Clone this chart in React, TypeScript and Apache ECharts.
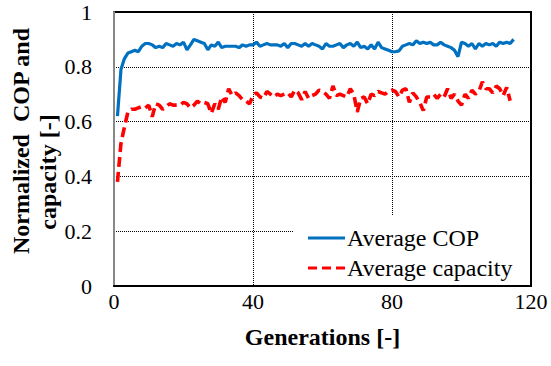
import React, { useEffect, useRef } from "react";
import * as echarts from "echarts";

const generationsCop = Array.from({ length: 115 }, (_, i) => i + 1);
const averageCop = [
  0.62, 0.79, 0.83, 0.85, 0.855, 0.86, 0.855, 0.875, 0.885, 0.885,
  0.88, 0.87, 0.875, 0.87, 0.885, 0.88, 0.875, 0.885, 0.88, 0.89,
  0.862, 0.88, 0.9, 0.895, 0.89, 0.885, 0.862, 0.88, 0.875, 0.89,
  0.87, 0.875, 0.875, 0.875, 0.875, 0.87, 0.88, 0.875, 0.88, 0.88,
  0.89, 0.875, 0.88, 0.885, 0.88, 0.88, 0.88, 0.875, 0.885, 0.87,
  0.885, 0.885, 0.88, 0.875, 0.885, 0.875, 0.885, 0.88, 0.875, 0.865,
  0.885, 0.875, 0.875, 0.88, 0.885, 0.87, 0.88, 0.885, 0.875, 0.89,
  0.87, 0.875, 0.865, 0.88, 0.865, 0.89, 0.87, 0.865, 0.86, 0.855,
  0.855, 0.858, 0.875, 0.88, 0.885, 0.88, 0.895, 0.885, 0.89, 0.885,
  0.89, 0.88, 0.88, 0.89, 0.88, 0.875, 0.87, 0.86, 0.837, 0.89,
  0.885, 0.875, 0.885, 0.865, 0.885, 0.875, 0.885, 0.88, 0.885, 0.875,
  0.89, 0.885, 0.89, 0.885, 0.9,
];
const averageCapacity = [
  0.38, 0.52, 0.58, 0.635, 0.645, 0.645, 0.65, 0.655, 0.65, 0.66,
  0.618, 0.665, 0.66, 0.645, 0.655, 0.665, 0.66, 0.66, 0.66, 0.67,
  0.665, 0.65, 0.66, 0.675, 0.665, 0.67, 0.665, 0.63, 0.665, 0.645,
  0.69, 0.67, 0.72, 0.695, 0.705, 0.695, 0.68, 0.675, 0.665, 0.695,
  0.705, 0.69, 0.685, 0.71, 0.7, 0.69, 0.7, 0.695, 0.7, 0.705,
  0.69, 0.715, 0.705, 0.68, 0.71, 0.685, 0.695, 0.7, 0.715, 0.71,
  0.7, 0.685, 0.73, 0.695, 0.7, 0.695, 0.69, 0.72, 0.7, 0.635,
  0.685, 0.69, 0.665, 0.7, 0.695, 0.71, 0.705, 0.7, 0.71, 0.715,
  0.71, 0.69, 0.715, 0.72, 0.67, 0.705, 0.69, 0.67, 0.64, 0.69,
  0.69, 0.7, 0.685, 0.7, 0.69, 0.72, 0.685, 0.7, 0.675, 0.66,
  0.7, 0.685, 0.715, 0.7, 0.71, 0.745, 0.72, 0.72, 0.705, 0.73,
  0.72, 0.695, 0.725, 0.676,
];
const generationsCap = Array.from({ length: averageCapacity.length }, (_, i) => i + 1);

const yTitleLines = ["Normalized  COP and", "capacity [-]"];
const xTitle = "Generations [-]";

const serif = "Times New Roman, Liberation Serif, serif";

export default function App() {
  const ref = useRef<HTMLDivElement>(null);
  useEffect(() => {
    if (!ref.current) return;
    const chart = echarts.init(ref.current, null, { renderer: "svg" });
    chart.setOption({
      animation: false,
      backgroundColor: "#fff",
      textStyle: { fontFamily: serif },
      grid: {
        left: 114, right: 20, top: 12, bottom: 80,
        outerBoundsMode: "none", containLabel: false,
        show: true, borderColor: "#000", borderWidth: 2,
      },
      xAxis: {
        type: "value",
        min: 0,
        max: 120,
        interval: 40,
        name: xTitle,
        nameLocation: "middle",
        nameGap: 39,
        nameTextStyle: { fontFamily: serif, fontWeight: "bold", fontSize: 24, color: "#000" },
        axisLine: { show: true, lineStyle: { color: "#000", width: 2 } },
        axisTick: { show: false },
        axisLabel: { fontFamily: serif, fontSize: 22, color: "#000", margin: 4 },
        splitLine: { show: true, lineStyle: { color: "#000", type: "dotted", width: 1 } },
      },
      yAxis: {
        type: "value",
        min: 0,
        max: 1,
        interval: 0.2,
        axisLine: { show: true, lineStyle: { color: "#888", width: 2 } },
        axisTick: { show: false },
        axisLabel: { fontFamily: serif, fontSize: 22, color: "#000", margin: 22 },
        splitLine: { show: true, lineStyle: { color: "#000", type: "dotted", width: 1 } },
      },
      graphic: [
        {
          type: "rect",
          z: 3,
          shape: { x: 293, y: 215, width: 236, height: 70 },
          style: { fill: "#fff" },
        },
        {
          type: "text",
          x: 21,
          y: 141,
          rotation: Math.PI / 2,
          style: {
            text: yTitleLines[0],
            font: "bold 24px " + serif,
            fill: "#000",
            textAlign: "center",
            textVerticalAlign: "middle",
            align: "center",
            verticalAlign: "middle",
          },
        },
        {
          type: "text",
          x: 48,
          y: 172,
          rotation: Math.PI / 2,
          style: {
            text: yTitleLines[1],
            font: "bold 24px " + serif,
            fill: "#000",
            textAlign: "center",
            textVerticalAlign: "middle",
            align: "center",
            verticalAlign: "middle",
          },
        },
      ],
      legend: {
        orient: "vertical",
        left: 303,
        top: 221,
        z: 5,
        itemWidth: 37,
        itemHeight: 14,
        itemGap: 6,
        textStyle: { fontFamily: serif, fontSize: 24, color: "#000", padding: [0, 0, 0, -3] },
        data: [
          { name: "Average COP", icon: "path://M0,6L37,6L37,9L0,9Z", itemStyle: { color: "#0070C0" } },
          { name: "Average capacity", icon: "path://M0,6L9,6L9,9L0,9ZM14,6L23,6L23,9L14,9ZM28,6L37,6L37,9L28,9Z", itemStyle: { color: "#FF0000" } },
        ],
      },
      series: [
        {
          name: "Average COP",
          type: "line",
          data: generationsCop.map((g, i) => [g, averageCop[i]]),
          showSymbol: false,
          lineStyle: { color: "#0070C0", width: 3.2 },
          itemStyle: { color: "#0070C0" },
          z: 2,
        },
        {
          name: "Average capacity",
          type: "line",
          data: generationsCap.map((g, i) => [g, averageCapacity[i]]),
          showSymbol: false,
          lineStyle: { color: "#FF0000", width: 3.6, type: [10, 5] },
          itemStyle: { color: "#FF0000" },
          z: 2,
        },
      ],
    });
    return () => chart.dispose();
  }, []);
  return <div ref={ref} style={{ width: 551, height: 366, position: "absolute", left: 0, top: 0 }} />;
}
